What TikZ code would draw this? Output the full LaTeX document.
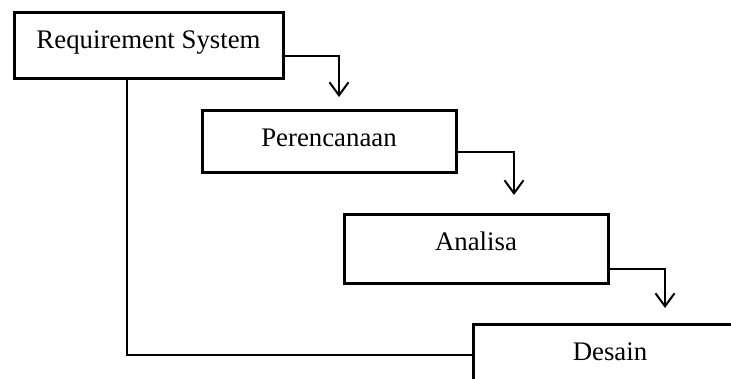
\documentclass[tikz,border=0pt]{standalone}
\usepackage{fontspec}
\setmainfont{Liberation Serif}
\usetikzlibrary{arrows.meta}
\begin{document}
\begin{tikzpicture}[x=1pt,y=-1pt,
  box/.style={draw=black,line width=3pt,rectangle,inner sep=0pt,fill=white},
  lbl/.style={font=\fontsize{26.8}{30}\selectfont,inner sep=0pt,anchor=base},
  conn/.style={draw=black,line width=2pt},
  arr/.style={conn,-{Straight Barb[length=13pt,width=19pt,line width=2pt]}}]
\useasboundingbox (0,0) rectangle (731,378);
\clip (0,0) rectangle (731,378);
\node[box,minimum width=274pt,minimum height=70pt] (d) at (610,359) {};
\node[box,minimum width=269pt,minimum height=66pt] (r) at (148.5,45.5) {};
\node[box,minimum width=254pt,minimum height=62pt] (p) at (329,141) {};
\node[box,minimum width=264pt,minimum height=69pt] (a) at (476,248.5) {};
\node[lbl] (rt) at ([yshift=-2.5pt]r.center) {Requirement System};
\node[lbl] (pt) at ([yshift=-5.7pt]p.center) {Perencanaan};
\node[lbl] (at) at ([yshift=-2.2pt]a.center) {Analisa};
\node[lbl] (dt) at (610,360) {Desain};
\coordinate (t1) at (339,97);
\coordinate (t2) at (514,195);
\coordinate (t3) at (665,308);
\coordinate (c1) at (127,355);
\draw[arr] ([yshift=-10.5pt]r.east) -| (t1);
\draw[arr] ([yshift=-11pt]p.east) -| (t2);
\draw[arr] ([yshift=-20.5pt]a.east) -| (t3);
\draw[conn] (r.south -| c1) -- (c1) -- (c1 -| d.west);
\end{tikzpicture}
\end{document}
